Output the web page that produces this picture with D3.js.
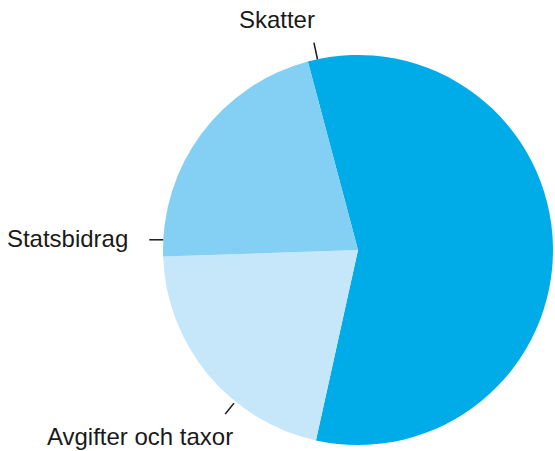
<!DOCTYPE html>
<html>
<head>
<meta charset="utf-8">
<script src="https://cdn.jsdelivr.net/npm/d3@7"></script>
<style>
  html, body { margin: 0; padding: 0; background: #fff; }
  svg { display: block; }
  .label { font-family: "Liberation Sans", Arial, sans-serif; font-size: 24px; fill: #1a1a1a; }
</style>
</head>
<body>
<div id="chart"></div>
<script>
"use strict";

// slices, clockwise from the top
const categories = ["Skatter", "Avgifter och taxor", "Statsbidrag"];
const shares = [57.6, 21.0, 21.4];
const colors = ["#00ace8", "#c6e7fa", "#84cff4"];

// leader line angle (degrees, clockwise from 12 o'clock) per label
const labelAngles = [-12, 219, 273];

const w = 555;
const h = 451;
const cx = 358;
const cy = 250;
const r = 195;
const startDeg = -14.9;

const rad = (d) => (d * Math.PI) / 180;

function draw() {
  const svg = d3
    .select("#chart")
    .append("svg")
    .attr("width", w)
    .attr("height", h);

  const pie = d3
    .pie()
    .sort(null)
    .value((d) => d.value)
    .startAngle(rad(startDeg))
    .endAngle(rad(startDeg + 360));

  const data = categories.map((c, i) => ({ name: c, value: shares[i], color: colors[i] }));
  const arc = d3.arc().innerRadius(0).outerRadius(r);

  const g = svg.append("g").attr("transform", `translate(${cx},${cy})`);

  g.selectAll("path")
    .data(pie(data))
    .enter()
    .append("path")
    .attr("d", arc)
    .attr("fill", (d) => d.data.color);

  // leader lines and labels
  const point = (a, rr) => [rr * Math.sin(rad(a)), -rr * Math.cos(rad(a))];

  // Skatter: short radial tick, text centred above
  let [x1, y1] = point(labelAngles[0], r);
  let [x2, y2] = point(labelAngles[0], r + 17);
  g.append("line").attr("x1", x1).attr("y1", y1).attr("x2", x2).attr("y2", y2)
    .attr("stroke", "#1a1a1a").attr("stroke-width", 1.5);
  g.append("text").attr("class", "label")
    .attr("x", x2 - 37).attr("y", y2 - 15)
    .attr("text-anchor", "middle").text(categories[0]);

  // Avgifter och taxor: diagonal tick, text below-left
  [x1, y1] = point(labelAngles[1], r + 2);
  [x2, y2] = point(labelAngles[1], r + 16);
  g.append("line").attr("x1", x1).attr("y1", y1).attr("x2", x2).attr("y2", y2)
    .attr("stroke", "#1a1a1a").attr("stroke-width", 1.5);
  g.append("text").attr("class", "label")
    .attr("x", x2 + 8).attr("y", y2 + 31)
    .attr("text-anchor", "end").text(categories[1]);

  // Statsbidrag: horizontal tick, text to the left
  [x1, y1] = point(labelAngles[2], r);
  g.append("line").attr("x1", x1).attr("y1", y1).attr("x2", x1 - 14).attr("y2", y1)
    .attr("stroke", "#1a1a1a").attr("stroke-width", 1.5);
  g.append("text").attr("class", "label")
    .attr("x", x1 - 35).attr("y", y1 + 7)
    .attr("text-anchor", "end").text(categories[2]);
}

draw();
</script>
</body>
</html>
